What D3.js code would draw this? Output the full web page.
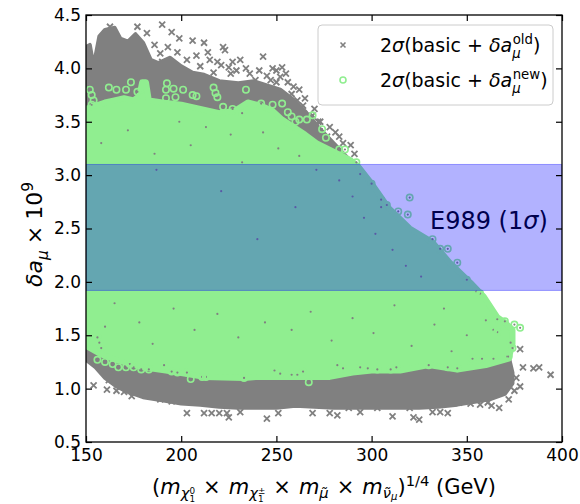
<!DOCTYPE html>
<html>
<head>
<meta charset="utf-8">
<script src="https://cdn.jsdelivr.net/npm/d3@7"></script>
<style>
  body { margin: 0; background: #fff; }
  svg { font-family: "DejaVu Sans", sans-serif; }
</style>
</head>
<body>
<svg width="580" height="504"></svg>
<script>
// tick labels
var xTicks = [150, 200, 250, 300, 350, 400];
var yTicks = [0.5, 1.0, 1.5, 2.0, 2.5, 3.0, 3.5, 4.0, 4.5];

// E989 1 sigma band
var band = [1.92, 3.10];

// dense core of the old-sample points, top edge left->right then bottom edge right->left
var oldCoreTop = [[150,4.20],[152,4.22],[154,4.02],[157,4.30],[160,4.36],[165,4.38],[168,4.28],[172,4.25],[176,4.32],[180,4.24],[184,4.08],[188,4.05],[194,4.10],[200,4.02],[206,3.96],[212,3.94],[220,3.88],[230,3.86],[238,3.88],[245,3.84],[252,3.80],[258,3.72],[265,3.60],[272,3.45],[280,3.30],[288,3.15],[295,2.92],[310,2.60],[325,2.36],[340,2.08],[352,1.85],[362,1.62],[368,1.45],[372,1.30],[374,1.15]];
var oldCoreBottom = [[374,1.05],[370,0.95],[362,0.90],[355,0.88],[345,0.85],[335,0.83],[325,0.82],[310,0.82],[300,0.82],[290,0.82],[280,0.82],[270,0.83],[260,0.84],[250,0.82],[240,0.82],[230,0.82],[220,0.83],[210,0.85],[200,0.86],[190,0.89],[180,0.92],[172,0.97],[166,1.02],[160,1.10],[155,1.20],[150,1.27]];

// scattered old-sample points around the edges
var oldEdge = [[151,4.19],[150.5,4.10],[162.6,4.39],[177,4.39],[182,4.33],[190,4.41],[195,4.34],[199,4.28],[206,4.26],[212,4.24],[222,4.20],[223,4.17],[214,4.15],[208,4.12],[189,4.14],[190,4.06],[219,4.06],[221,4.03],[225,4.01],[227,4.06],[229,3.98],[234,4.00],[236,3.95],[239,3.89],[243,4.11],[248,4.00],[250,3.98],[253,4.01],[247,3.89],[250,3.87],[256,3.87],[259,3.83],[261,3.70],[258,3.76],[269,3.56],[272,3.50],[268,3.52],[273,3.50],[276.6,3.36],[283,3.36],
  [186,4.22],[193,4.20],[198,4.15],[203,4.08],[210,4.02],[215,4.08],[217,3.96],[226,3.95],[231,4.08],[241,3.98],[245,3.93],[252,3.92],[255,3.95],[262,3.80],[265,3.72],[264,3.65],[270,3.62],[278,3.45],[281,3.40],[285,3.30],[289,3.28],[291,3.20],
  [154,1.03],[162,1.08],[164,1.08],[166,1.08],[161,0.99],[166,0.98],[170,0.97],[174,0.93],[180,0.96],[181,0.94],[189,0.90],[195,0.88],[203,0.77],[212,0.77],[216,0.77],[220,0.77],[224,0.77],[225,0.73],[231,0.78],[245,0.72],[251,0.77],[269,0.77],[278,0.77],[282,0.75],[288,0.82],[294,0.78],[303,0.82],[311,0.74],[320,0.82],[322,0.73],[325,0.71],[332,0.78],[336,0.78],[340,0.77],[346,0.87],[352,0.86],[357,0.85],[361,0.87],[363,0.84],[367,0.82],[360,0.95],[378,1.02],[385,1.19],[388,1.20],[394,1.13],[378,1.37],[366,1.16],[371,1.11],[379.5,1.20],[376,1.10],[375,0.98],[372,0.90]];

// dense core of the new-sample points
var newCoreTop = [[150,3.62],[155,3.65],[160,3.68],[165,3.70],[170,3.72],[175,3.70],[178,3.74],[179.5,3.87],[181.5,3.87],[183,3.70],[190,3.68],[200,3.66],[210,3.62],[220,3.58],[228,3.60],[235,3.68],[242,3.65],[248,3.60],[253,3.52],[259,3.45],[265,3.38],[271,3.30],[280,3.22],[289,3.14],[293,3.08],[300,2.92],[309,2.69],[320,2.50],[332,2.37],[341,2.18],[352,1.99],[359,1.86],[366,1.67],[370,1.62],[374,1.55]];
var newCoreBottom = [[374,1.42],[372,1.28],[360,1.22],[345,1.18],[330,1.22],[315,1.17],[300,1.17],[290,1.15],[278,1.11],[260,1.11],[240,1.11],[233,1.10],[212,1.11],[192,1.17],[180,1.20],[166,1.27],[158,1.32],[150,1.40]];

// scattered new-sample points around the edges
var newEdge = [[152,3.80],[153,3.75],[154,3.70],[153,3.66],[162,3.82],[166,3.80],[171,3.80],[173.6,3.87],[177,3.78],[192.5,3.86],[192,3.80],[196,3.81],[201,3.80],[192,3.72],[197,3.73],[206,3.75],[208,3.74],[217,3.82],[218,3.77],[219,3.73],[234,3.80],[222,3.64],[227,3.62],[232,3.58],[242,3.67],[248,3.66],[253,3.67],[256,3.59],[258,3.55],[260,3.50],[262,3.52],[266,3.52],[269,3.56],[274,3.43],[276,3.35],[283,3.24],[286,3.24],[292,3.12],[294,3.01],[300,2.92],[305,2.77],[308,2.72],[314,2.66],[319,2.63],[320,2.79],[332,2.40],[336,2.31],[340,2.31],[345,2.18],[350,2.02],[357,1.89],[355,1.91],[366,1.65],[370,1.63],[375,1.60],[378,1.57],[360,1.64],[364,1.55],[366,1.53],[373,1.43],[374,1.38],[371,1.30],[372,1.30],[353,1.28],[358,1.28],[364,1.28],[330,1.22],[340,1.20],[345,1.19],
  [156,1.48],[157,1.43],[158,1.38],[156,1.27],[160,1.25],[164,1.23],[167,1.20],[171,1.20],[173,1.23],[175,1.20],[179,1.18],[183,1.18],[191,1.22],[195,1.16],[198,1.15],[203,1.15],[205,1.09],[211,1.11],[213,1.11],[233,1.10],[249,1.17],[252,1.14],[258,1.13],[261,1.13],[264,1.16],[267,1.06],[282,1.22],[285,1.19],[294,1.20],[298,1.19],[303,1.18],[310,1.18],[313,1.20]];

// old-sample points that show through gaps inside the green core
var oldInside = [[158,3.30],[172,3.42],[186,3.20],[199,3.50],[205,3.28],[213,3.45],[226,3.38],[232,3.12],[243,3.40],[251,3.25],[262,3.18],[271,3.05],[283,2.95],[290,2.80],[296,2.60],[302,2.45],[311,2.30],[318,2.15],[326,2.05],[305,2.70],[187,3.05],[221,2.85],[260,2.70],[240,2.40],
  [165,1.80],[178,1.62],[196,1.75],[207,1.55],[219,1.70],[230,1.48],[244,1.62],[258,1.55],[268,1.72],[279,1.45],[290,1.66],[301,1.52],[312,1.78],[321,1.40],[333,1.60],[342,1.35],[350,1.50],[338,1.75],[160,1.58],[185,1.42]];

var svg = d3.select("svg");
var margin = {left: 86, right: 18, top: 15, bottom: 62};
var width = +svg.attr("width"), height = +svg.attr("height");

var x = d3.scaleLinear().domain([150, 400]).range([margin.left, width - margin.right]);
var y = d3.scaleLinear().domain([0.5, 4.5]).range([height - margin.bottom, margin.top]);

svg.append("clipPath").attr("id", "clip")
  .append("rect")
  .attr("x", x(150)).attr("y", y(4.5))
  .attr("width", x(400) - x(150)).attr("height", y(0.5) - y(4.5));

var plot = svg.append("g").attr("clip-path", "url(#clip)");
var line = d3.line().x(d => x(d[0])).y(d => y(d[1]));

var crossPath = "M-3,-3L3,3M-3,3L3,-3";

// old sample (grey crosses)
plot.append("path")
  .attr("d", line(oldCoreTop.concat(oldCoreBottom)) + "Z")
  .attr("fill", "gray").attr("stroke", "gray")
  .attr("stroke-width", 4).attr("stroke-linejoin", "round");

plot.append("g").selectAll("path")
  .data(oldEdge)
  .enter().append("path")
  .attr("d", crossPath)
  .attr("transform", d => `translate(${x(d[0])},${y(d[1])})`)
  .attr("stroke", "gray").attr("stroke-width", 1.8);

// new sample (light green circles)
plot.append("path")
  .attr("d", line(newCoreTop.concat(newCoreBottom)) + "Z")
  .attr("fill", "lightgreen").attr("stroke", "lightgreen")
  .attr("stroke-width", 6).attr("stroke-linejoin", "round");

// grey specks seen inside the open circles
plot.append("g").selectAll("circle")
  .data(oldInside.concat(newEdge))
  .enter().append("circle")
  .attr("cx", d => x(d[0])).attr("cy", d => y(d[1]))
  .attr("r", 1.1)
  .attr("fill", "gray");

plot.append("g").selectAll("circle")
  .data(newEdge)
  .enter().append("circle")
  .attr("cx", d => x(d[0])).attr("cy", d => y(d[1]))
  .attr("r", 3.2)
  .attr("fill", "none").attr("stroke", "lightgreen").attr("stroke-width", 1.6);

// helper for math-like labels
function rich(textSel, parts, size) {
  var cur = 0;
  parts.forEach(function(p) {
    var shift = (p.sh || 0) * size;
    var ts = textSel.append("tspan").text(p.t)
      .attr("dy", shift - cur)
      .style("font-size", ((p.sc || 1) * size) + "px");
    if (p.it) ts.style("font-style", "italic");
    if (p.dx) ts.attr("dx", p.dx);
    cur = shift;
  });
}

// E989 text (under the band, so it gets tinted)
var e989 = plot.append("text")
  .attr("x", 430).attr("y", 229)
  .attr("fill", "black");
rich(e989, [{t: "E989 (1"}, {t: "σ", it: true}, {t: ")"}], 24);

// band
plot.append("rect")
  .attr("x", x(150)).attr("width", x(400) - x(150))
  .attr("y", y(band[1])).attr("height", y(band[0]) - y(band[1]))
  .attr("fill", "blue").attr("fill-opacity", 0.3)
  .attr("stroke", "blue").attr("stroke-opacity", 0.35).attr("stroke-width", 1);

// AXES
var tickLen = 6;
svg.append("g")
  .attr("transform", `translate(0,${y(0.5)})`)
  .call(d3.axisBottom(x).tickValues(xTicks).tickSizeInner(-tickLen).tickSizeOuter(0).tickPadding(7).tickFormat(d3.format("d")))
  .call(g => g.select(".domain").remove());

svg.append("g")
  .attr("transform", `translate(${x(150)},0)`)
  .call(d3.axisLeft(y).tickValues(yTicks).tickSizeInner(-tickLen).tickSizeOuter(0).tickPadding(5).tickFormat(d3.format(".1f")))
  .call(g => g.select(".domain").remove());

svg.append("g")
  .attr("transform", `translate(0,${y(4.5)})`)
  .call(d3.axisTop(x).tickValues(xTicks).tickSizeInner(-tickLen).tickSizeOuter(0).tickFormat(""))
  .call(g => g.select(".domain").remove());

svg.append("g")
  .attr("transform", `translate(${x(400)},0)`)
  .call(d3.axisRight(y).tickValues(yTicks).tickSizeInner(-tickLen).tickSizeOuter(0).tickFormat(""))
  .call(g => g.select(".domain").remove());

svg.selectAll(".tick line").attr("stroke", "black").attr("stroke-width", 1.2);
svg.selectAll(".tick text")
  .attr("fill", "black")
  .style("font-size", "17px")
  .style("font-family", "DejaVu Sans");

svg.append("rect")
  .attr("x", x(150)).attr("y", y(4.5))
  .attr("width", x(400) - x(150)).attr("height", y(0.5) - y(4.5))
  .attr("fill", "none").attr("stroke", "black").attr("stroke-width", 1.3);

// axis labels
var xl = svg.append("text")
  .attr("x", (x(150) + x(400)) / 2).attr("y", 494)
  .attr("text-anchor", "middle").attr("fill", "black");
rich(xl, [
  {t: "("}, {t: "m", it: true}, {t: "χ", it: true, sc: 0.7, sh: 0.2},
  {t: "1", sc: 0.42, sh: 0.36}, {t: "0", sc: 0.42, sh: -0.02, dx: -5.6},
  {t: "×", dx: 8}, {t: "m", it: true, dx: 8}, {t: "χ", it: true, sc: 0.7, sh: 0.2},
  {t: "1", sc: 0.42, sh: 0.36}, {t: "±", sc: 0.42, sh: -0.02, dx: -5.6},
  {t: "×", dx: 8}, {t: "m", it: true, dx: 8}, {t: "μ\u0303", it: true, sc: 0.7, sh: 0.2},
  {t: "×", dx: 8}, {t: "m", it: true, dx: 8}, {t: "ν\u0303", it: true, sc: 0.7, sh: 0.2},
  {t: "μ", it: true, sc: 0.48, sh: 0.3},
  {t: ")"}, {t: "1/4", sc: 0.7, sh: -0.4}, {t: " (GeV)"}
], 21);

var yl = svg.append("text")
  .attr("transform", `translate(42,${(y(4.5) + y(0.5)) / 2 + 6}) rotate(-90)`)
  .attr("text-anchor", "middle").attr("fill", "black");
rich(yl, [
  {t: "δa", it: true}, {t: "μ", it: true, sc: 0.7, sh: 0.25},
  {t: "×", dx: 6}, {t: "10", dx: 6}, {t: "9", sc: 0.7, sh: -0.4}
], 22);

// LEGEND
var legend = svg.append("g").attr("id", "legend");
legend.append("rect")
  .attr("x", 318).attr("y", 25).attr("width", 235).attr("height", 80)
  .attr("rx", 4)
  .attr("fill", "white").attr("fill-opacity", 0.8)
  .attr("stroke", "#cccccc").attr("stroke-width", 1);

legend.append("path")
  .attr("d", "M-2.5,-2.5L2.5,2.5M-2.5,2.5L2.5,-2.5")
  .attr("transform", "translate(343,45)")
  .attr("stroke", "gray").attr("stroke-width", 1.6);
legend.append("circle")
  .attr("cx", 343).attr("cy", 80).attr("r", 3)
  .attr("fill", "none").attr("stroke", "lightgreen").attr("stroke-width", 1.6);

var legendLabels = ["old", "new"];
legendLabels.forEach(function(lab, i) {
  var t = legend.append("text").attr("x", 380).attr("y", 52 + i * 35).attr("fill", "black");
  rich(t, [
    {t: "2"}, {t: "σ", it: true}, {t: "(basic + "}, {t: "δa", it: true},
    {t: "μ", it: true, sc: 0.7, sh: 0.3}, {t: lab, sc: 0.7, sh: -0.4, dx: -8},
    {t: ")"}
  ], 19);
});
</script>
</body>
</html>
